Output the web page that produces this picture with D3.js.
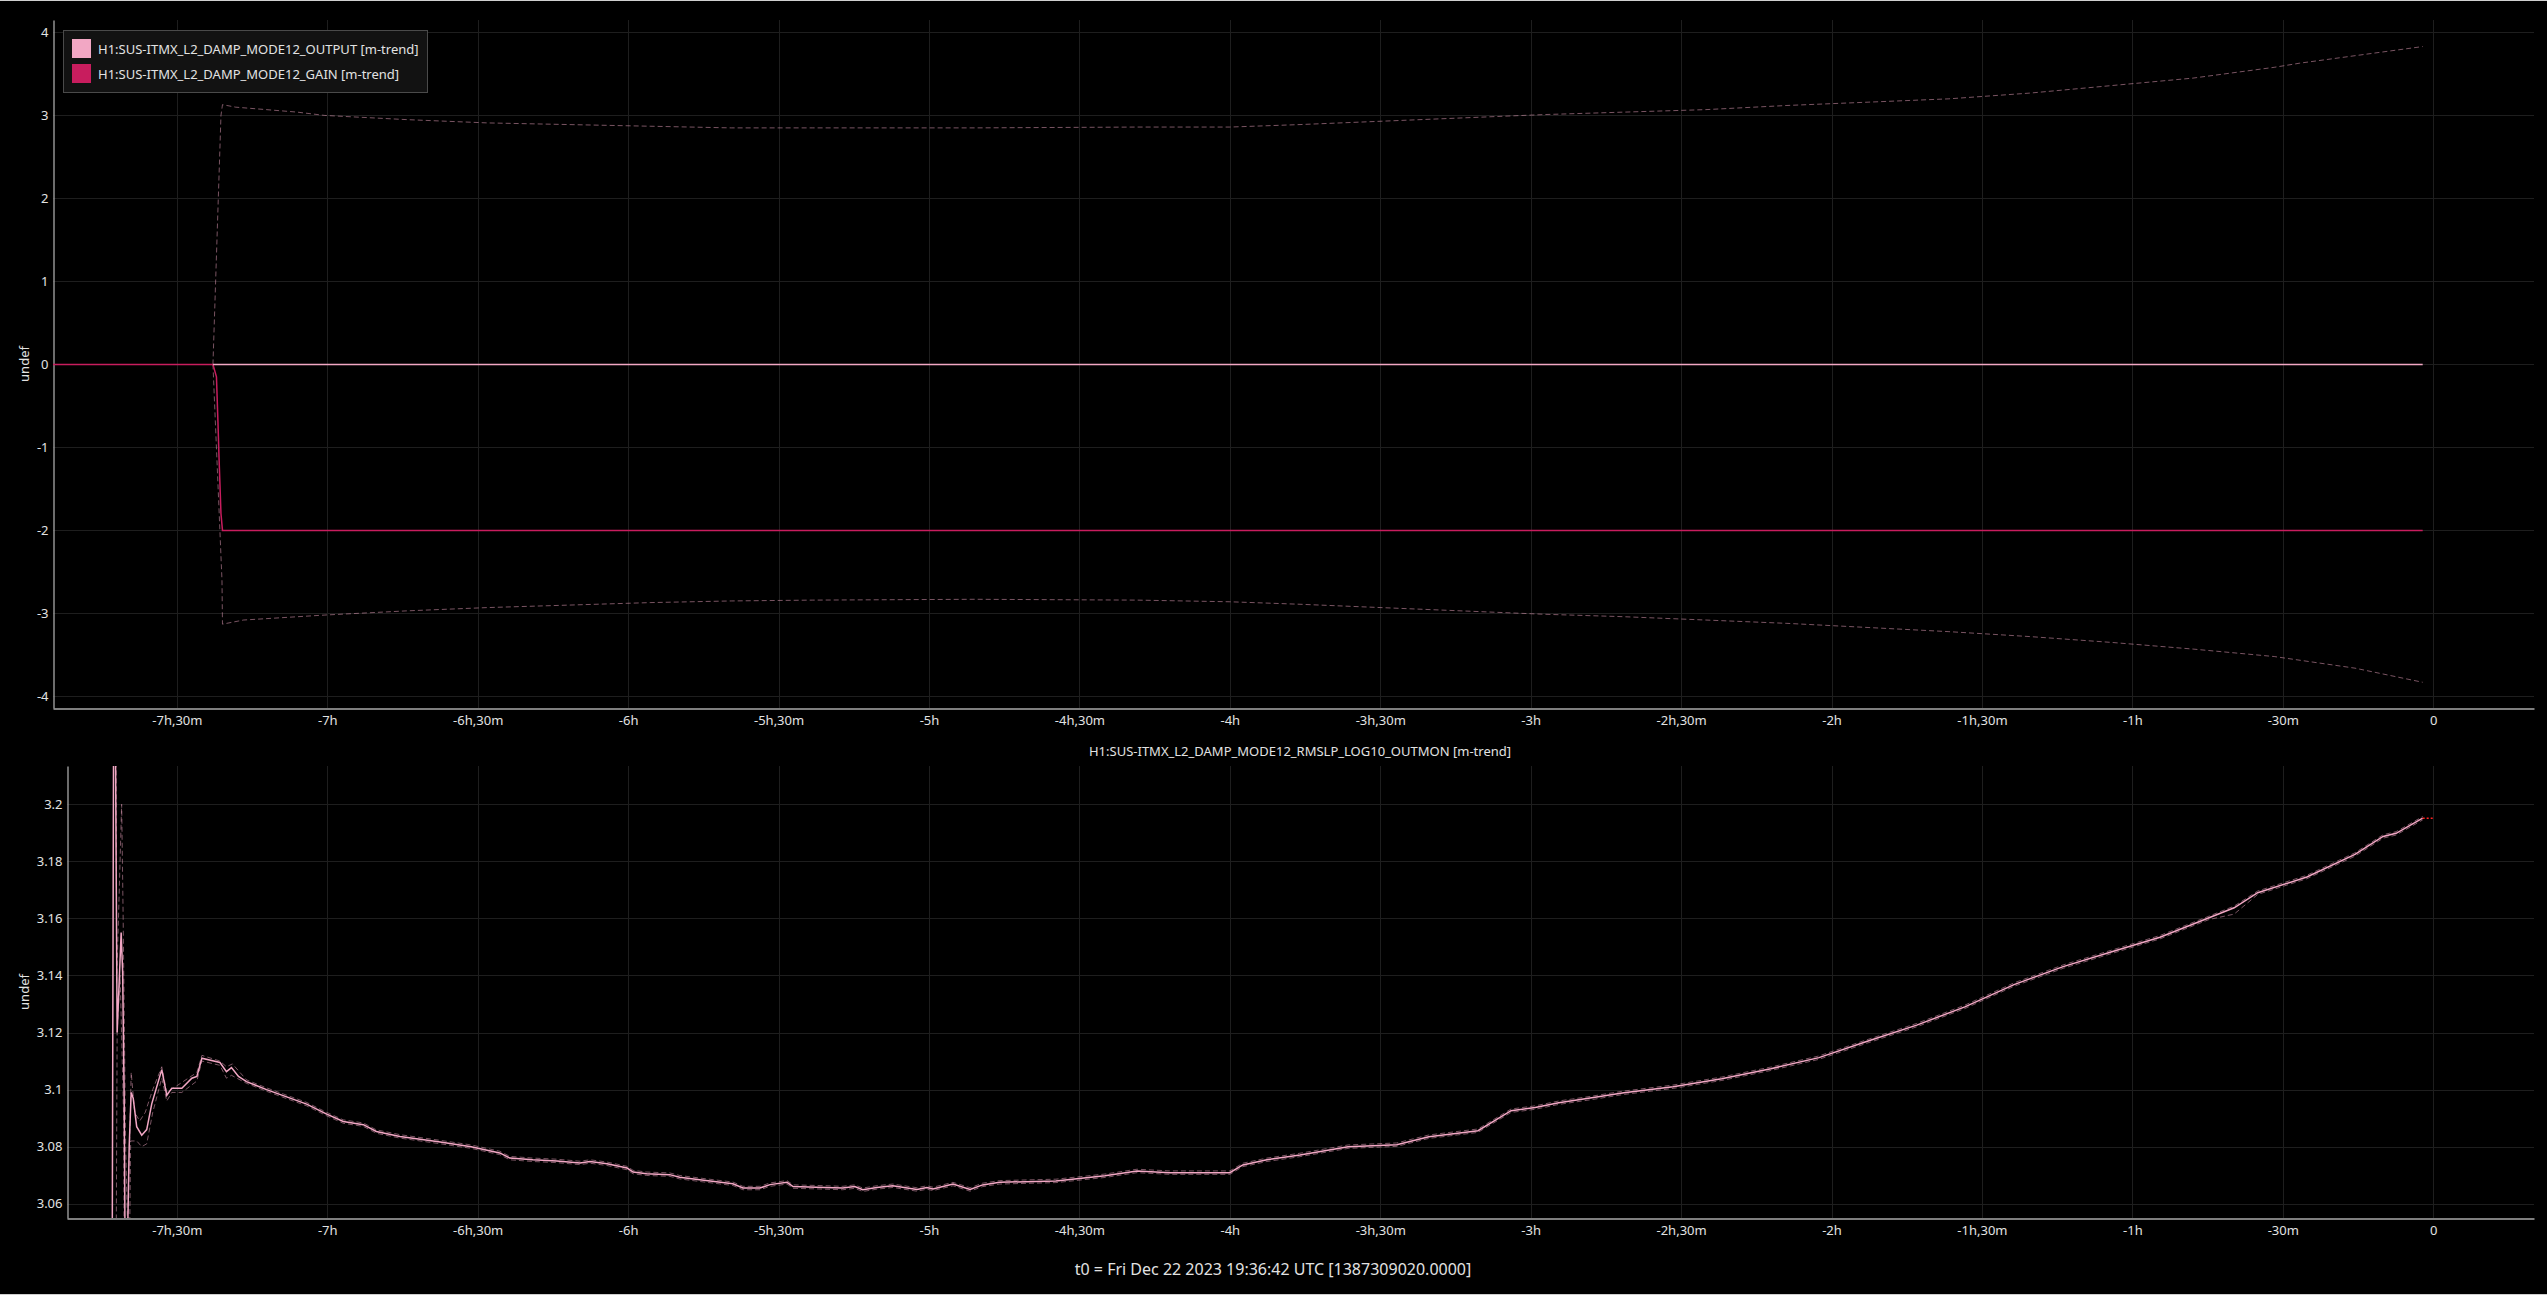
<!DOCTYPE html>
<html>
<head>
<meta charset="utf-8">
<script src="https://cdn.jsdelivr.net/npm/d3@7"></script>
<style>
    body { margin: 0; background: #000; }
    svg text { font-family: "Noto Sans", sans-serif; }
</style>
</head>
<body>
<svg id="trend-chart" width="2547" height="1295"></svg>
<script>
// tick values (minutes relative to t0)
const minuteTicks = [-450, -420, -390, -360, -330, -300, -270, -240, -210, -180, -150, -120, -90, -60, -30, 0];
const topValueTicks = [-4, -3, -2, -1, 0, 1, 2, 3, 4];
const bottomValueTicks = [3.06, 3.08, 3.1, 3.12, 3.14, 3.16, 3.18, 3.2];

const legendLabels = ["H1:SUS-ITMX_L2_DAMP_MODE12_OUTPUT [m-trend]", "H1:SUS-ITMX_L2_DAMP_MODE12_GAIN [m-trend]"];
const bottomTitle = "H1:SUS-ITMX_L2_DAMP_MODE12_RMSLP_LOG10_OUTMON [m-trend]";
const footerText = "t0 = Fri Dec 22 2023 19:36:42 UTC [1387309020.0000]";

// top panel: GAIN mean [minute, value]
const gainMean = [[-474.7, 0], [-442.8, 0], [-442.1, -0.15], [-441.8, -0.7], [-441.6, -1.1], [-441.4, -1.45],
    [-441.2, -1.8], [-440.9, -2], [-2.1, -2]];

// top panel: OUTPUT mean, max, min
const outputMean = [[-442.8, 0], [-2.1, 0]];
const outputMax = [[-442.8, 0], [-441.2, 3.0], [-440.9, 3.13], [-438.3, 3.10], [-426.0, 3.04], [-420.5, 3.00],
    [-404.3, 2.95], [-388.1, 2.91], [-371.8, 2.89], [-355.6, 2.87], [-339.4, 2.85], [-323.2, 2.85], [-290.9, 2.85],
    [-258.5, 2.86], [-240.0, 2.86], [-226.0, 2.89], [-209.9, 2.93], [-193.7, 2.97], [-177.5, 3.01], [-161.4, 3.04],
    [-145.1, 3.07], [-128.9, 3.12], [-112.7, 3.16], [-96.6, 3.20], [-80.3, 3.27], [-64.1, 3.36], [-47.9, 3.45],
    [-31.7, 3.58], [-26.6, 3.63], [-2.1, 3.83]];
const outputMin = [[-442.8, 0], [-441.0, -2.6], [-440.9, -3.13], [-436.7, -3.08], [-420.5, -3.02], [-404.3, -2.97],
    [-388.1, -2.93], [-371.8, -2.90], [-355.6, -2.87], [-339.4, -2.85], [-323.2, -2.84], [-290.9, -2.83],
    [-258.5, -2.84], [-240.0, -2.86], [-226.0, -2.89], [-209.9, -2.93], [-193.7, -2.97], [-177.5, -3.01],
    [-161.4, -3.04], [-145.1, -3.08], [-128.9, -3.12], [-112.7, -3.17], [-96.6, -3.22], [-80.3, -3.28],
    [-64.1, -3.35], [-47.9, -3.43], [-31.7, -3.52], [-15.6, -3.66], [-2.1, -3.83]];

// bottom panel: RMSLP_LOG10_OUTMON mean
const outmonMinutes = [-462.9, -462.5, -461.9, -461.1, -460.8, -460.5, -460.3, -459.9, -459.5, -459.1, -458.7,
    -458.0, -457.0, -456.0, -455.0, -453.0, -452.0, -451.0, -449.0, -447.0, -446.0, -445.0, -441.4, -440.1, -439.1,
    -437.7, -436.1, -432.1, -427.4, -424.1, -420.1, -416.8, -412.8, -410.2, -405.5, -397.8, -391.3, -385.6, -383.6,
    -379.0, -374.2, -369.6, -367.6, -364.2, -360.2, -359.0, -356.3, -351.7, -349.7, -345.7, -339.1, -337.1, -333.7,
    -331.7, -328.3, -327.1, -322.4, -317.2, -314.8, -313.2, -310.4, -307.2, -302.4, -300.4, -299.2, -295.2, -291.8,
    -289.3, -285.9, -274.7, -264.9, -258.5, -252.0, -240.0, -237.4, -232.6, -226.0, -216.4, -206.7, -200.3, -190.5,
    -183.9, -179.1, -174.4, -167.8, -161.4, -151.6, -141.9, -132.1, -122.5, -112.7, -103.0, -93.4, -83.6, -73.8,
    -64.1, -54.5, -44.7, -39.7, -35.0, -25.2, -15.6, -10.0, -7.4, -2.1];
const outmonMean = [3.03, 3.30, 3.12, 3.155, 3.141, 3.097, 3.04, 3.04, 3.08, 3.099, 3.097,
    3.087, 3.084, 3.086, 3.095, 3.107, 3.098, 3.1005, 3.1005, 3.104, 3.1046, 3.111, 3.1095, 3.1063, 3.1077,
    3.1046, 3.1028, 3.1, 3.097, 3.0949, 3.0914, 3.0888, 3.0877, 3.0853, 3.0836, 3.0817, 3.08, 3.0778, 3.076,
    3.0754, 3.075, 3.0743, 3.0748, 3.074, 3.0725, 3.0711, 3.0705, 3.0702, 3.0693, 3.0684, 3.067, 3.0655, 3.0655,
    3.0667, 3.0675, 3.066, 3.0658, 3.0655, 3.066, 3.0649, 3.0657, 3.0663, 3.065, 3.0657, 3.0652, 3.0669, 3.065,
    3.0666, 3.0675, 3.068, 3.0698, 3.0715, 3.0709, 3.0709, 3.0736, 3.0754, 3.0771, 3.08, 3.0807, 3.0835, 3.0856,
    3.0926, 3.0937, 3.0954, 3.0971, 3.0989, 3.101, 3.1038, 3.1073, 3.1112, 3.117, 3.1226, 3.129, 3.1368, 3.1431,
    3.1483, 3.1534, 3.1602, 3.1637, 3.169, 3.1745, 3.1824, 3.1887, 3.1898, 3.1951];

// bottom panel: max / min during the start-up spikes [minute, value]
const outmonMaxEarly = [[-463.1, 3.30], [-462.2, 3.30], [-462.0, 3.137], [-461.0, 3.20], [-460.7, 3.16], [-460.2, 3.08],
    [-459.8, 3.05], [-459.1, 3.106], [-458.4, 3.092], [-457.4, 3.089], [-456.3, 3.092], [-454.8, 3.100],
    [-453.0, 3.108], [-452.0, 3.099], [-449.0, 3.1025], [-446.0, 3.106], [-445.0, 3.112], [-441.4, 3.110],
    [-440.1, 3.108], [-438.9, 3.109]];
const outmonMinEarly = [[-463.1, 3.00], [-462.2, 3.00], [-461.9, 3.12], [-461.3, 3.14], [-460.6, 3.09], [-460.4, 3.00],
    [-459.7, 3.00], [-459.2, 3.082], [-458.0, 3.082], [-457.0, 3.080], [-456.0, 3.081], [-454.8, 3.092],
    [-453.0, 3.104], [-452.0, 3.096], [-451.0, 3.099], [-449.0, 3.099], [-446.0, 3.103], [-445.0, 3.110],
    [-441.4, 3.1085], [-440.1, 3.104], [-439.1, 3.105]];
// bottom panel: max / min afterwards, one value per mean sample from -436.1 min on
const lateStart = 26;
const outmonMaxLate = [3.1034, 3.1006, 3.0976, 3.0955, 3.092, 3.0894, 3.0883, 3.0859, 3.0842, 3.0823,
    3.0806, 3.0784, 3.0766, 3.076, 3.0756, 3.0749, 3.0754, 3.0746, 3.0731, 3.0717,
    3.0711, 3.0708, 3.0699, 3.069, 3.0676, 3.0661, 3.0661, 3.0673, 3.0681, 3.0666,
    3.0664, 3.0661, 3.0666, 3.0655, 3.0663, 3.0669, 3.0656, 3.0663, 3.0658, 3.0675,
    3.0656, 3.0672, 3.0681, 3.0686, 3.0704, 3.0721, 3.0715, 3.0715, 3.0742, 3.076,
    3.0777, 3.0806, 3.0813, 3.0841, 3.0862, 3.0932, 3.0943, 3.096, 3.0977, 3.0995,
    3.1016, 3.1044, 3.1079, 3.1118, 3.1176, 3.1232, 3.1296, 3.1374, 3.1437, 3.1489,
    3.154, 3.1608, 3.1643, 3.1696, 3.1751, 3.183, 3.1893, 3.1904, 3.1957];
const outmonMinLate = [3.1022, 3.0994, 3.0964, 3.0943, 3.0908, 3.0882, 3.0871, 3.0847, 3.083, 3.0811,
    3.0794, 3.0772, 3.0754, 3.0748, 3.0744, 3.0737, 3.0742, 3.0734, 3.0719, 3.0705,
    3.0699, 3.0696, 3.0687, 3.0678, 3.0664, 3.0649, 3.0649, 3.0661, 3.0669, 3.0654,
    3.0652, 3.0649, 3.0654, 3.0643, 3.0651, 3.0657, 3.0644, 3.0651, 3.0646, 3.0663,
    3.0644, 3.066, 3.0669, 3.0674, 3.0692, 3.0709, 3.0703, 3.0703, 3.073, 3.0748,
    3.0765, 3.0794, 3.0801, 3.0829, 3.085, 3.092, 3.0931, 3.0948, 3.0965, 3.0983,
    3.1004, 3.1032, 3.1067, 3.1106, 3.1164, 3.122, 3.1284, 3.1362, 3.1425, 3.1477,
    3.1528, 3.1596, 3.1615, 3.1684, 3.1739, 3.1818, 3.1881, 3.1892, 3.1945];

const outputColor = "#f2a7c4";
const gainColor = "#c81d5e";
const gridColor = "#1e1e1e";
const axisColor = "#a8a8a8";
const textColor = "#e2e2e2";

const topPanel = { left: 53, right: 2534, top: 20, bottom: 708, xDomain: [-474.7, 20.1], yDomain: [-4.14, 4.15] };
const bottomPanel = { left: 67, right: 2534, top: 766, bottom: 1218, xDomain: [-471.9, 20.1], yDomain: [3.055, 3.2134] };

const svg = d3.select("#trend-chart");
svg.append("rect").attr("width", 2547).attr("height", 1295).attr("fill", "#000");
// thin frame lines at the very top and bottom
svg.append("line").attr("x1", 0).attr("x2", 2547).attr("y1", 0.5).attr("y2", 0.5).attr("stroke", "#cfcfcf");
svg.append("line").attr("x1", 0).attr("x2", 2547).attr("y1", 1294.5).attr("y2", 1294.5).attr("stroke", "#cfcfcf");

function formatMinutes(m) {
    if (m === 0) return "0";
    const a = Math.abs(m);
    const h = Math.floor(a / 60), mm = a % 60;
    let s = "-";
    if (h) s += h + "h";
    if (h && mm) s += ",";
    if (mm) s += mm + "m";
    return s;
}

function drawPanel(panel, valueTicks, id) {
    const x = d3.scaleLinear().domain(panel.xDomain).range([panel.left, panel.right]);
    const y = d3.scaleLinear().domain(panel.yDomain).range([panel.bottom, panel.top]);

    svg.append("clipPath").attr("id", id)
        .append("rect")
        .attr("x", panel.left).attr("y", panel.top)
        .attr("width", panel.right - panel.left).attr("height", panel.bottom - panel.top);

    // grid
    const grid = svg.append("g");
    grid.selectAll(".vgrid").data(minuteTicks).join("line")
        .attr("x1", d => Math.round(x(d)) + 0.5).attr("x2", d => Math.round(x(d)) + 0.5)
        .attr("y1", panel.top).attr("y2", panel.bottom)
        .attr("stroke", gridColor);
    grid.selectAll(".hgrid").data(valueTicks).join("line")
        .attr("x1", panel.left).attr("x2", panel.right)
        .attr("y1", d => Math.round(y(d)) + 0.5).attr("y2", d => Math.round(y(d)) + 0.5)
        .attr("stroke", gridColor);

    // x axis
    const xAxis = svg.append("g")
        .attr("transform", `translate(0, ${panel.bottom + 0.5})`)
        .call(d3.axisBottom(x).tickValues(minuteTicks).tickFormat(formatMinutes).tickSize(0).tickPadding(7));
    // y axis
    const yAxis = svg.append("g")
        .attr("transform", `translate(${panel.left + 0.5}, 0)`)
        .call(d3.axisLeft(y).tickValues(valueTicks).tickFormat(d => String(d)).tickSize(0).tickPadding(5));
    [xAxis, yAxis].forEach(a => {
        a.select(".domain").attr("stroke", axisColor).attr("stroke-width", 1.3);
        a.selectAll("text").attr("fill", textColor).attr("font-size", "13px");
    });

    // y label
    svg.append("text")
        .attr("transform", `translate(24, ${(panel.top + panel.bottom) / 2}) rotate(-90)`)
        .attr("text-anchor", "middle")
        .attr("dy", "0.35em")
        .attr("fill", textColor)
        .attr("font-size", "13px")
        .text("undef");

    const line = d3.line().x(d => x(d[0])).y(d => y(d[1]));
    const plot = svg.append("g").attr("clip-path", `url(#${id})`);
    return { x, y, line, plot };
}

function dashed(plot, data, line) {
    plot.append("path").datum(data).attr("d", line)
        .attr("fill", "none").attr("stroke", outputColor).attr("stroke-opacity", 0.5)
        .attr("stroke-width", 1).attr("stroke-dasharray", "5,3");
}

// top panel
const topPlot = drawPanel(topPanel, topValueTicks, "clip-top");
dashed(topPlot.plot, outputMax, topPlot.line);
dashed(topPlot.plot, outputMin, topPlot.line);
topPlot.plot.append("path").datum(gainMean).attr("d", topPlot.line)
    .attr("fill", "none").attr("stroke", gainColor).attr("stroke-width", 1.5);
topPlot.plot.append("path").datum(outputMean).attr("d", topPlot.line)
    .attr("fill", "none").attr("stroke", outputColor).attr("stroke-width", 1.5);

// legend
const legend = svg.append("g");
legend.append("rect")
    .attr("x", 63.5).attr("y", 30.5).attr("width", 364).attr("height", 62)
    .attr("fill", "#121212").attr("stroke", "#4a4a4a");
legend.selectAll(".swatch").data([outputColor, gainColor]).join("rect")
    .attr("x", 72).attr("y", (d, i) => 39 + i * 25)
    .attr("width", 19).attr("height", 19)
    .attr("fill", d => d);
legend.selectAll(".label").data(legendLabels).join("text")
    .attr("x", 98).attr("y", (d, i) => 53.5 + i * 25)
    .attr("fill", textColor).attr("font-size", "13px")
    .text(d => d);

// bottom panel
svg.append("text")
    .attr("x", 1300).attr("y", 756)
    .attr("text-anchor", "middle")
    .attr("fill", textColor).attr("font-size", "13px")
    .text(bottomTitle);

const bottomPlot = drawPanel(bottomPanel, bottomValueTicks, "clip-bottom");
const outmonSeries = outmonMinutes.map((m, i) => [m, outmonMean[i]]);
const lateMinutes = outmonMinutes.slice(lateStart);
const outmonMax = outmonMaxEarly.concat(lateMinutes.map((m, i) => [m, outmonMaxLate[i]]));
const outmonMin = outmonMinEarly.concat(lateMinutes.map((m, i) => [m, outmonMinLate[i]]));
dashed(bottomPlot.plot, outmonMax, bottomPlot.line);
dashed(bottomPlot.plot, outmonMin, bottomPlot.line);
bottomPlot.plot.append("path").datum(outmonSeries).attr("d", bottomPlot.line)
    .attr("fill", "none").attr("stroke", outputColor).attr("stroke-width", 1.5);
// red dotted extension from the last sample to t0
const lastSample = outmonSeries[outmonSeries.length - 1];
bottomPlot.plot.append("path").datum([lastSample, [0, lastSample[1]]]).attr("d", bottomPlot.line)
    .attr("fill", "none").attr("stroke", "#ff2020").attr("stroke-width", 1.5).attr("stroke-dasharray", "2,2");

// footer
svg.append("text")
    .attr("x", 1273).attr("y", 1275)
    .attr("text-anchor", "middle")
    .attr("fill", textColor).attr("font-size", "16px")
    .text(footerText);
</script>
</body>
</html>
